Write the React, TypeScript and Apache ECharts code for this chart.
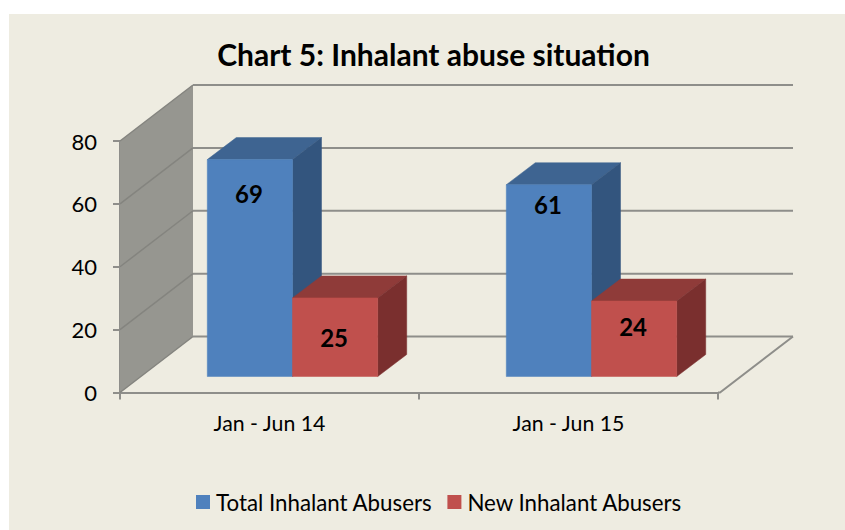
import React, { useEffect, useRef } from "react";
import * as echarts from "echarts";

const categories = ["Jan - Jun 14", "Jan - Jun 15"];
const totalAbusers = [69, 61];
const newAbusers = [25, 24];
const yTicks = [0, 20, 40, 60, 80];
const chartTitle = "Chart 5: Inhalant abuse situation";
const totalName = "Total Inhalant Abusers";
const newName = "New Inhalant Abusers";

const FONT = "Lato";
const BEIGE = "#EEECE1";
const GRID = "#8E8E8A";
const WALL = "#969690";
const WALL_LINE = "#84847F";
// oblique projection: floor depth and where the bars sit in it
const WALL_DX = 73;
const WALL_DY = 56;
const RIGHT_EXTRA = 2;
const BAR_OFF_X = 23;
const BAR_OFF_Y = 16;
const BAR_DX = 29;
const BAR_DY = 22;
const BAR_BAND_RATIO = 0.285;

const labelDrop = { total: [34, 20], fresh: [40, 25] };

function barRenderer(side: number, colors: string[], drops: number[]) {
  return (params: any, api: any) => {
    const cat = api.value(0);
    const val = api.value(1);
    const top = api.coord([cat, val]);
    const base = api.coord([cat, 0]);
    const w = api.size([1, 0])[0] * BAR_BAND_RATIO;
    const x0 = top[0] + BAR_OFF_X + (side < 0 ? -w : 0);
    const x1 = x0 + w;
    const yT = top[1] - BAR_OFF_Y;
    const yB = base[1] - BAR_OFF_Y;
    const poly = (points: number[][], fill: string) => ({
      type: "polygon",
      shape: { points },
      style: { fill, stroke: fill, lineWidth: 0.5 },
    });
    return {
      type: "group",
      children: [
        poly([[x0, yT], [x1, yT], [x1 + BAR_DX, yT - BAR_DY], [x0 + BAR_DX, yT - BAR_DY]], colors[1]),
        poly([[x1, yT], [x1 + BAR_DX, yT - BAR_DY], [x1 + BAR_DX, yB - BAR_DY], [x1, yB]], colors[2]),
        poly([[x0, yT], [x1, yT], [x1, yB], [x0, yB]], colors[0]),
        {
          type: "text",
          x: (x0 + x1) / 2 - 1,
          y: yT + drops[params.dataIndex],
          style: {
            text: String(val),
            fill: "#000",
            font: `bold 24px ${FONT}`,
            textAlign: "center",
            textVerticalAlign: "middle",
          },
        },
      ],
    };
  };
}

function wallRenderer(params: any, api: any) {
  const v = api.value(1);
  const sys = params.coordSys;
  const y = api.coord([0, v])[1];
  const left = sys.x;
  const right = sys.x + sys.width;
  const children: any[] = [];
  if (params.dataIndex === 0) {
    const top = sys.y;
    const bottom = sys.y + sys.height;
    children.push({
      type: "polygon",
      shape: {
        points: [
          [left, top],
          [left + WALL_DX, top - WALL_DY],
          [left + WALL_DX, bottom - WALL_DY],
          [left, bottom],
        ],
      },
      style: { fill: WALL },
    });
    children.push({
      type: "polyline",
      shape: {
        points: [
          [right + WALL_DX + RIGHT_EXTRA, bottom - WALL_DY],
          [right + RIGHT_EXTRA, bottom],
          [right, bottom],
        ],
      },
      style: { fill: "none", stroke: GRID, lineWidth: 2 },
    });
  }
  children.push({
    type: "line",
    shape: { x1: left, y1: y, x2: left + WALL_DX, y2: y - WALL_DY },
    style: { stroke: WALL_LINE, lineWidth: 1.5 },
  });
  children.push({
    type: "line",
    shape: { x1: left + WALL_DX, y1: y - WALL_DY, x2: right + WALL_DX + RIGHT_EXTRA, y2: y - WALL_DY },
    style: { stroke: GRID, lineWidth: 2 },
  });
  return { type: "group", children };
}

export default function App() {
  const ref = useRef<HTMLDivElement>(null);
  useEffect(() => {
    const chart = echarts.init(ref.current!, undefined, { renderer: "svg" });
    chart.setOption({
      animation: false,
      backgroundColor: "transparent",
      textStyle: { fontFamily: FONT },
      title: {
        text: chartTitle,
        left: 428.5,
        textAlign: "center",
        top: 34,
        textStyle: { fontFamily: FONT, fontSize: 30, fontWeight: "bold", color: "#000" },
      },
      legend: {
        data: [totalName, newName],
        left: 191,
        top: 486,
        icon: "rect",
        itemWidth: 14,
        itemHeight: 14,
        itemGap: 15,
        textStyle: { fontFamily: FONT, fontSize: 22.3, color: "#000", padding: [0, 0, 0, 1] },
      },
      grid: { left: 120, right: 127, top: 141, bottom: 137.5 },
      xAxis: {
        type: "category",
        data: categories,
        axisLine: { lineStyle: { color: GRID, width: 2 } },
        axisTick: { show: true, length: 7, lineStyle: { color: GRID, width: 2 } },
        axisLabel: { color: "#000", fontFamily: FONT, fontSize: 21.3, margin: 20 },
        splitLine: { show: false },
      },
      yAxis: {
        type: "value",
        min: 0,
        max: 80,
        interval: 20,
        axisLine: { show: true, lineStyle: { color: GRID, width: 2 } },
        axisTick: { show: true, length: 7, lineStyle: { color: GRID, width: 2 } },
        axisLabel: { color: "#000", fontFamily: FONT, fontSize: 22, margin: 23 },
        splitLine: { show: false },
      },
      series: [
        {
          type: "custom",
          name: "walls",
          z: 1,
          renderItem: wallRenderer,
          data: yTicks.map((v) => [0, v]),
          encode: { x: 0, y: 1 },
          silent: true,
        },
        {
          type: "custom",
          name: totalName,
          z: 3,
          renderItem: barRenderer(-1, ["#4F81BD", "#3E6491", "#33557E"], labelDrop.total),
          itemStyle: { color: "#4F81BD" },
          data: totalAbusers.map((v, i) => [i, v]),
          encode: { x: 0, y: 1 },
        },
        {
          type: "custom",
          name: newName,
          z: 4,
          renderItem: barRenderer(1, ["#C0504D", "#8F3B39", "#7A2F2E"], labelDrop.fresh),
          itemStyle: { color: "#C0504D" },
          data: newAbusers.map((v, i) => [i, v]),
          encode: { x: 0, y: 1 },
        },
      ],
    });
    return () => chart.dispose();
  }, []);
  return (
    <div style={{ position: "fixed", left: 0, top: 0, width: 845, height: 530, background: "#fff", overflow: "hidden" }}>
      <div style={{ position: "absolute", left: 9, top: 14, right: 0, bottom: 0, background: BEIGE }} />
      <div ref={ref} style={{ position: "absolute", left: 0, top: 0, width: 845, height: 530 }} />
    </div>
  );
}
